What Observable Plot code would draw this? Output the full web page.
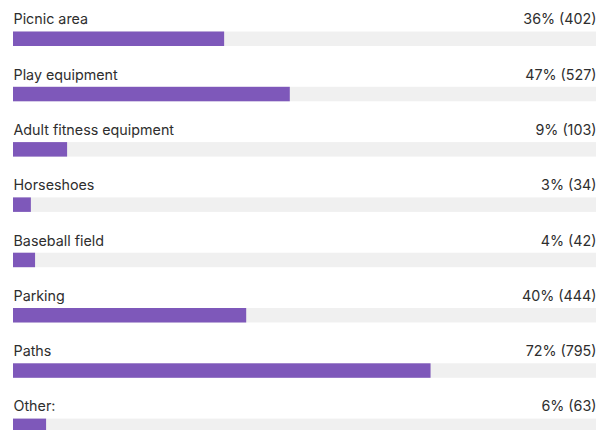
<!DOCTYPE html>
<html>
<head>
<meta charset="utf-8">
<script src="https://cdn.jsdelivr.net/npm/d3@7"></script>
<script src="https://cdn.jsdelivr.net/npm/@observablehq/plot@0.6"></script>
<style>
  html, body { margin: 0; padding: 0; background: #fff; }
  #chart svg { display: block; }
</style>
</head>
<body>
<div id="chart"></div>
<script>
const categories = ["Picnic area", "Play equipment", "Adult fitness equipment", "Horseshoes", "Baseball field", "Parking", "Paths", "Other:"];
const percents = [36, 47, 9, 3, 4, 40, 72, 6];
const counts = [402, 527, 103, 34, 42, 444, 795, 63];
const respondents = 1110;

const rows = categories.map((c, i) => ({
  category: c,
  share: counts[i] / respondents * 100,
  label: `${percents[i]}% (${counts[i]})`
}));

const chart = Plot.plot({
  width: 608,
  height: 430,
  margin: 0,
  style: {fontFamily: "Inter, 'Noto Sans', sans-serif", fontSize: "14.3px", color: "#2e2e2e", background: "#fff"},
  x: {domain: [0, 100], range: [13, 596], axis: null},
  y: {type: "band", domain: categories, range: [11.1, 453.5], paddingInner: 0.738, paddingOuter: 0.369, round: false, axis: null},
  marks: [
    Plot.barX(rows, {y: "category", x1: 0, x2: 100, fill: "#f0f0f0"}),
    Plot.barX(rows, {y: "category", x1: 0, x2: "share", fill: "#7e58ba"}),
    Plot.text(rows, {y: "category", x: 0, text: "category", textAnchor: "start", lineAnchor: "middle", dy: -19.5, fill: "#2e2e2e"}),
    Plot.text(rows, {y: "category", x: 100, text: "label", textAnchor: "end", lineAnchor: "middle", dy: -19.5, fill: "#2e2e2e"})
  ]
});
document.getElementById("chart").append(chart);
</script>
</body>
</html>
